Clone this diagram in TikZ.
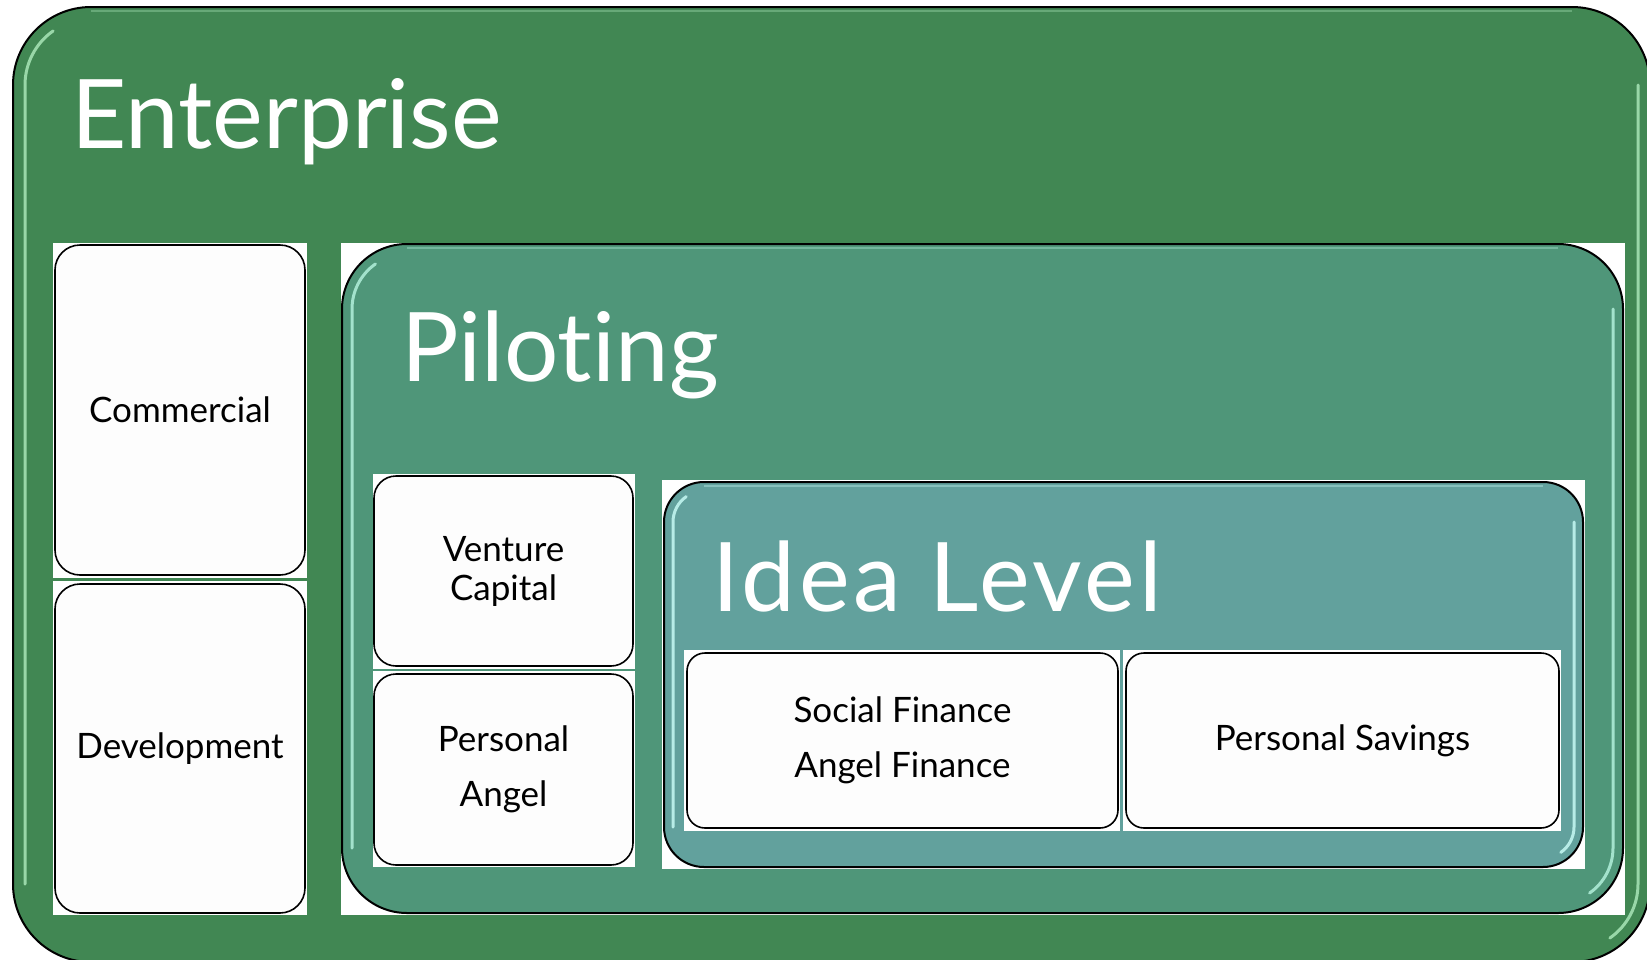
\documentclass[tikz,border=0pt]{standalone}
\usepackage{fontspec}
\setmainfont[Ligatures=NoCommon]{Lato}
\definecolor{entG}{RGB}{65,135,83}
\definecolor{pilG}{RGB}{79,150,121}
\definecolor{ideaG}{RGB}{98,161,157}
\definecolor{entH}{RGB}{175,235,190}
\definecolor{pilH}{RGB}{185,245,225}
\definecolor{ideaH}{RGB}{205,255,250}
\definecolor{cardfill}{RGB}{253,253,253}
\tikzset{
  cont/.style={draw=black, line width=2pt, inner sep=0pt, outer sep=0pt},
  card/.style={draw=black, line width=1.6pt, fill=cardfill, inner sep=0pt, outer sep=0pt, align=center, text=black},
  smalltext/.style={font=\fontsize{35}{39}\selectfont},
  widetext/.style={font=\fontsize{35}{55}\selectfont},
  titletext/.style={text=white, font=\fontsize{96}{100}\selectfont, anchor=base west, inner sep=0pt},
  whitebg/.style={fill=white, draw=none},
  gloss/.style={line width=3pt, line cap=round, opacity=.8}
}
% left/top/right/bottom/radius/inset
\newcommand{\glossbox}[7]{%
  \draw[gloss, #7] (#1+#6, #4-#5) -- (#1+#6, #2+#5) arc[start angle=180, end angle=235, radius=#5-#6];
  \draw[gloss, #7] (#3-#6, #2+#5) -- (#3-#6, #4-#5) arc[start angle=0, end angle=55, radius=#5-#6];
  \draw[line width=2pt, opacity=.35, #7] (#1+#5, #2+4) -- (#3-#5, #2+4);
}
\begin{document}
\begin{tikzpicture}[x=1pt, y=-1pt]
\useasboundingbox (0,0) rectangle (1647,959);
\clip (0,0) rectangle (1647,959);
\fill[white] (0,0) rectangle (1647,959);

% Enterprise container
\node[cont, fill=entG, rounded corners=78pt, minimum width=1637pt, minimum height=955pt] (ent) at (831.5,484.5) {};
\glossbox{13}{7}{1650}{962}{78}{12}{entH}
\node[titletext] (entT) at (71,148) {Enterprise};

% white backgrounds
\fill[whitebg] (53,243) rectangle (307,578);
\fill[whitebg] (53,581) rectangle (307,915);
\fill[whitebg] (341,243) rectangle (1625,915);

\node[card, rounded corners=25pt, minimum width=250pt, minimum height=330pt, smalltext] (comm) at (180,410) {Commercial};
\node[card, rounded corners=25pt, minimum width=250pt, minimum height=329pt, smalltext] (dev) at (180,748.5) {Development};

% Piloting container
\node[cont, fill=pilG, rounded corners=65pt, minimum width=1281pt, minimum height=669pt] (pil) at (982.5,578.5) {};
\glossbox{342}{244}{1623}{913}{65}{10}{pilH}
\node[titletext] (pilT) at (401,381) {Piloting};

\fill[whitebg] (373,474) rectangle (635,669);
\fill[whitebg] (373,671) rectangle (635,867);
\node[card, rounded corners=22pt, minimum width=259pt, minimum height=190pt, smalltext] (vc) at (503.5,571) {Venture\\Capital};
\node[card, rounded corners=22pt, minimum width=259pt, minimum height=191pt, widetext] (pa) at (503.5,769.5) {Personal\\Angel};

% Idea Level container
\fill[whitebg] (662,480) rectangle (1585,869);
\node[cont, fill=ideaG, rounded corners=40pt, minimum width=919pt, minimum height=385pt] (idea) at (1123.5,674.5) {};
\glossbox{664}{482}{1583}{867}{40}{9}{ideaH}
\node[titletext] (ideaT) at (712,611) {\addfontfeature{LetterSpace=4}Idea Level};

\fill[whitebg] (684,650) rectangle (1120,831);
\fill[whitebg] (1123,650) rectangle (1561,831);
\node[card, rounded corners=18pt, minimum width=431pt, minimum height=175pt, widetext] (soc) at (902.5,740.5) {Social Finance\\Angel Finance};
\node[card, rounded corners=18pt, minimum width=433pt, minimum height=175pt, smalltext] (sav) at (1342.5,740.5) {Personal Savings};
\end{tikzpicture}
\end{document}
